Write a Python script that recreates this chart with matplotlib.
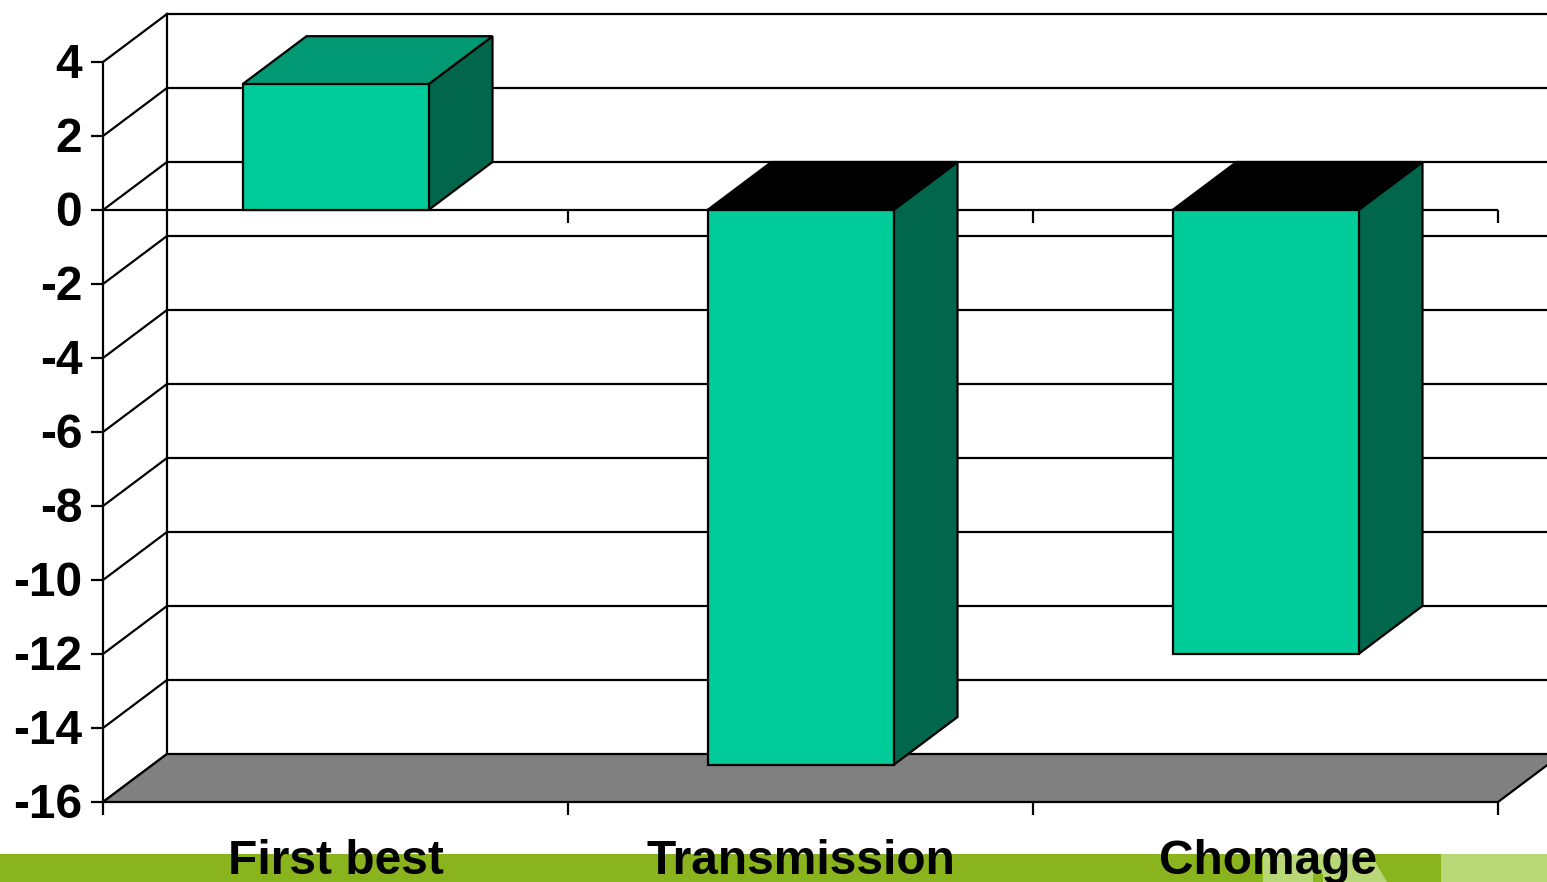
import matplotlib
matplotlib.use('Agg')
import matplotlib.pyplot as plt
from matplotlib.patches import Polygon, Rectangle
from matplotlib.transforms import ScaledTranslation

categories = ['First best', 'Transmission', 'Chomage']
values = [3.4, -15.0, -12.0]
yticks = [4, 2, 0, -2, -4, -6, -8, -10, -12, -14, -16]

FRONT = '#00cc99'
TOP = '#009973'
SIDE = '#00664c'
FLOOR = '#808080'
BAND = '#8ab41e'
BAND_LIGHT = '#b8d878'

W, H = 1547, 882
plt.rcParams['font.family'] = ['Liberation Sans', 'DejaVu Sans']
fig = plt.figure(figsize=(W / 100, H / 100), dpi=100, facecolor='white')

# footer band of the slide, in pixels from the top left
def px_poly(pts, color):
    fig.patches.append(Polygon([(x / W, 1 - y / H) for x, y in pts], transform=fig.transFigure,
                               facecolor=color, edgecolor='none', zorder=-2))

px_poly([(0, 854), (W, 854), (W, 882), (0, 882)], BAND)
px_poly([(1441, 854), (W, 854), (W, 882), (1441, 882)], BAND_LIGHT)
px_poly([(1263, 854), (1372, 854), (1377, 865), (1387, 882), (1323, 882), (1323, 874),
         (1313, 874), (1313, 882), (1263, 882)], BAND_LIGHT)

ax = fig.add_axes((103 / W, 1 - 802 / H, (1498 - 103) / W, (802 - 62) / H))
ax.patch.set_alpha(0)
ax.set_xlim(0, 3)
ax.set_ylim(-16, 4)

# depth of the fake 3d box, in data units
dx = 64 / 465
dy = 48 / 37
xright = 3 + dx
lw = 1.6

def box(x0, x1, y0, y1, top_color, z):
    ax.add_patch(Rectangle((x0, y0), x1 - x0, y1 - y0, fc=FRONT, ec='k', lw=lw, zorder=z + 0.2, clip_on=False))
    ax.add_patch(Polygon([(x1, y0), (x1 + dx, y0 + dy), (x1 + dx, y1 + dy), (x1, y1)],
                         fc=SIDE, ec='k', lw=lw, zorder=z, clip_on=False))
    ax.add_patch(Polygon([(x0, y1), (x0 + dx, y1 + dy), (x1 + dx, y1 + dy), (x1, y1)],
                         fc=top_color, ec='k', lw=lw, zorder=z, clip_on=False))

# walls and floor
ax.add_patch(Polygon([(0, -16), (dx, -16 + dy), (xright, -16 + dy), (3, -16)],
                     fc=FLOOR, ec='k', lw=lw, zorder=2, clip_on=False))
ax.plot([dx, dx], [-16 + dy, 4 + dy], color='k', lw=lw, zorder=1, clip_on=False)
for t in yticks:
    ax.plot([0, dx], [t, t + dy], color='k', lw=lw, zorder=1, clip_on=False)
    if t > -16:
        ax.plot([dx, xright], [t + dy, t + dy], color='k', lw=lw, zorder=1, clip_on=False)

# bars
for i, v in enumerate(values):
    x0, x1 = i + 0.3, i + 0.7
    if v >= 0:
        box(x0, x1, 0, v, TOP, 4)
    else:
        box(x0, x1, v, 0, 'black', 4)

# zero line with its ticks
ax.axhline(0, color='k', lw=lw, zorder=3)
ax.vlines([1, 2, 3], -13 / 37, 0, color='k', lw=lw, zorder=3, clip_on=False)

for s in ['top', 'right', 'bottom']:
    ax.spines[s].set_visible(False)
ax.spines['left'].set_linewidth(lw)
ax.spines['left'].set_zorder(3)

ax.set_yticks(yticks)
ax.set_yticklabels([str(t) for t in yticks], fontsize=34.5, fontweight='bold')
ax.tick_params(axis='y', length=9, width=lw, pad=6)
for lab in ax.get_yticklabels():
    lab.set_transform(lab.get_transform() + ScaledTranslation(0, 1 / 100, fig.dpi_scale_trans))
ax.set_xticks([0, 1, 2, 3])
ax.set_xticklabels([])
ax.tick_params(axis='x', which='major', length=9, width=lw)
ax.set_xticks([0.5, 1.5, 2.5], minor=True)
ax.set_xticklabels(categories, minor=True, fontsize=34.5, fontweight='bold')
ax.tick_params(axis='x', which='minor', length=0, pad=27)
chomage = ax.get_xticklabels(minor=True)[2]
chomage.set_transform(chomage.get_transform() + ScaledTranslation(2.5 / 100, 0, fig.dpi_scale_trans))

fig.savefig('out.png', dpi=100)
